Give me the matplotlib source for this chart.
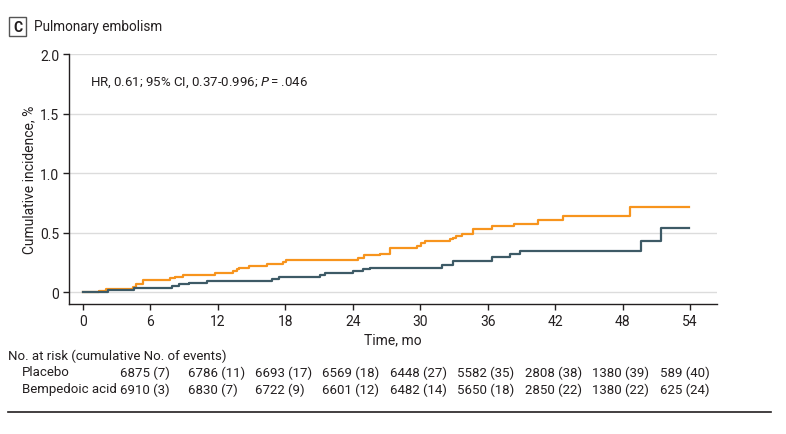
import numpy as np
import matplotlib
matplotlib.use("Agg")
import matplotlib.pyplot as plt
from matplotlib.patches import Rectangle

plt.rcParams['font.family'] = ['Roboto', 'DejaVu Sans']

# Step curves (time in months, cumulative incidence in %)
placebo_t = [0, 1.4, 2.0, 4.4, 4.7, 5.3, 7.7, 8.2, 8.9, 11.7, 13.3, 13.7, 13.9, 14.8,
             16.4, 17.8, 18.1, 24.5, 25.0, 26.4, 27.3, 29.75, 30.05, 30.4, 32.65, 32.9,
             33.2, 33.7, 34.7, 36.4, 38.3, 40.5, 42.7, 48.7, 53.9]
placebo_y = [0.0, 0.01, 0.025, 0.045, 0.07, 0.10, 0.115, 0.13, 0.143, 0.16, 0.177, 0.193,
             0.205, 0.218, 0.235, 0.25, 0.268, 0.285, 0.31, 0.32, 0.367, 0.39, 0.41, 0.426,
             0.443, 0.456, 0.47, 0.49, 0.532, 0.552, 0.574, 0.605, 0.64, 0.717, 0.717]

bempedoic_t = [0, 2.25, 4.5, 7.9, 8.5, 9.4, 11.0, 16.8, 17.4, 21.1, 21.5, 24.0, 24.9,
               25.5, 31.9, 32.95, 36.4, 38.0, 38.9, 49.6, 51.4, 53.9]
bempedoic_y = [0.005, 0.017, 0.034, 0.05, 0.064, 0.078, 0.095, 0.112, 0.128, 0.143, 0.157,
               0.174, 0.19, 0.204, 0.227, 0.26, 0.294, 0.32, 0.347, 0.43, 0.535, 0.535]

# Risk table
risk_times = [0, 6, 12, 18, 24, 30, 36, 42, 48]
placebo_risk = ["6875 (7)", "6786 (11)", "6693 (17)", "6569 (18)", "6448 (27)",
                "5582 (35)", "2808 (38)", "1380 (39)", "589 (40)"]
bempedoic_risk = ["6910 (3)", "6830 (7)", "6722 (9)", "6601 (12)", "6482 (14)",
                  "5650 (18)", "2850 (22)", "1380 (22)", "625 (24)"]

orange = "#F7941D"
slate = "#3D5A66"
txt = "#231F20"
fs = 9.5

fig = plt.figure(figsize=(7.86, 4.35), dpi=100)
ax = fig.add_axes([69 / 786, 1 - 305 / 435, (717 - 69) / 786, (305 - 55) / 435])

ax.step(placebo_t, placebo_y, where="post", color=orange, lw=1.6)
ax.step(bempedoic_t, bempedoic_y, where="post", color=slate, lw=1.6)

ax.set_xlim(-1.25, 56.4)
ax.set_ylim(-0.1, 2.0)
ax.set_xticks(np.arange(0, 55, 6))
ax.set_yticks([0, 0.5, 1.0, 1.5, 2.0])
ax.set_yticklabels(["0", "0.5", "1.0", "1.5", "2.0"])
ax.yaxis.grid(True, color="#DCDCDC", lw=1)
ax.set_axisbelow(True)
for s in ["top", "right"]:
    ax.spines[s].set_visible(False)
for s in ["left", "bottom"]:
    ax.spines[s].set_color(txt)
    ax.spines[s].set_linewidth(1)
ax.tick_params(colors=txt, labelsize=fs + 0.5, length=4, width=1, pad=3)

ax.set_xlabel("Time, mo", fontsize=fs + 0.5, color=txt, labelpad=3)
ax.yaxis.set_label_coords(-0.051, 0.47)
ax.set_ylabel("Cumulative incidence, %", fontsize=fs + 0.5, color=txt)

ax.text(0.6, 1.765, "HR, 0.61; 95% CI, 0.37-0.996; $\\it{P}$\u2009=\u2009.046",
        fontsize=fs, color=txt, va="center", ha="left")

# panel title
fig.patches.append(Rectangle((9 / 786, 1 - 37 / 435), 17 / 786, 19 / 435,
                             transform=fig.transFigure, fill=False, ec="#555555", lw=1))
fig.text(17.5 / 786, 1 - 27.5 / 435, "C", fontsize=fs + 0.5, fontweight="bold", color=txt,
         ha="center", va="center")
fig.text(34 / 786, 1 - 27 / 435, "Pulmonary embolism", fontsize=fs + 0.3, color=txt,
         ha="left", va="center")

# risk table
fig.text(8 / 786, 1 - 356 / 435, "No. at risk (cumulative No. of events)", fontsize=fs,
         color=txt, va="center")
fig.text(22 / 786, 1 - 373 / 435, "Placebo", fontsize=fs, color=txt, va="center")
fig.text(22 / 786, 1 - 390 / 435, "Bempedoic acid", fontsize=fs, color=txt, va="center")
trans = matplotlib.transforms.blended_transform_factory(ax.transData, fig.transFigure)
for t, p, b in zip(risk_times, placebo_risk, bempedoic_risk):
    fig.text(t + 3.3, 1 - 373 / 435, p, fontsize=fs, color=txt, va="center",
             transform=trans)
    fig.text(t + 3.3, 1 - 390 / 435, b, fontsize=fs, color=txt, va="center",
             transform=trans)

fig.add_artist(plt.Line2D([8 / 786, 771 / 786], [1 - 413 / 435, 1 - 413 / 435],
                          color="#231F20", lw=1.2, transform=fig.transFigure))

fig.savefig("out.png", dpi=100)
